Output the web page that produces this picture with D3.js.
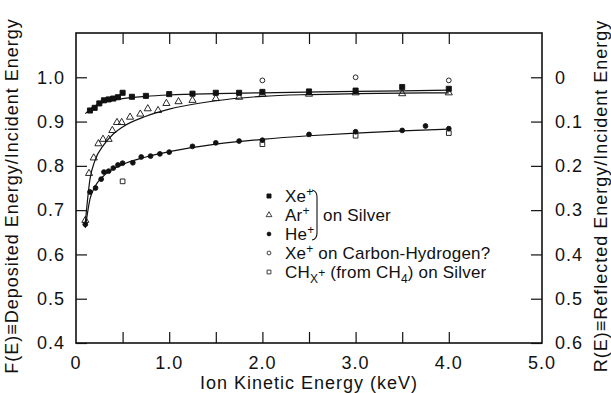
<!DOCTYPE html>
<html>
<head>
<meta charset="utf-8">
<script src="https://cdn.jsdelivr.net/npm/d3@7"></script>
<style>
  body { margin: 0; background: #fff; }
  text { font-family: "Liberation Sans", Arial, sans-serif; fill: #111; }
</style>
</head>
<body>
<script>
var width = 611, height = 393;
var margin = {left: 76, right: 69, top: 33, bottom: 50};

var xeE = [0.15,0.2,0.25,0.3,0.35,0.4,0.45,0.5,0.6,0.75,1.0,1.25,1.5,1.75,2.0,2.5,3.0,3.5,4.0];
var xeF = [0.925,0.931,0.941,0.948,0.95,0.952,0.955,0.965,0.956,0.958,0.962,0.963,0.965,0.965,0.967,0.968,0.97,0.978,0.974];
var arE = [0.1,0.14,0.19,0.24,0.29,0.35,0.39,0.44,0.49,0.58,0.69,0.77,0.88,0.97,1.1,1.25,1.5,1.75,2.0,2.5,3.0,3.5,4.0];
var arF = [0.677,0.783,0.818,0.85,0.86,0.86,0.88,0.898,0.898,0.91,0.917,0.929,0.925,0.941,0.945,0.948,0.952,0.955,0.962,0.962,0.965,0.963,0.965];
var heE = [0.1,0.15,0.21,0.27,0.3,0.35,0.4,0.45,0.5,0.61,0.7,0.8,0.9,1.0,1.25,1.5,1.75,2.0,2.5,3.0,3.5,3.75,4.0];
var heF = [0.668,0.741,0.75,0.77,0.786,0.788,0.795,0.802,0.806,0.807,0.82,0.822,0.827,0.831,0.844,0.852,0.856,0.858,0.871,0.877,0.88,0.89,0.884];
var xeChE = [2.0,3.0,4.0];
var xeChF = [0.993,1.0,0.993];
var chE = [0.5,2.0,3.0,4.0];
var chF = [0.765,0.849,0.868,0.874];

// fitted curves as drawn in the figure
var xeFitE = [0.1,0.2,0.3,0.5,0.75,1.0,1.5,2.0,3.0,4.0];
var xeFitF = [0.918,0.935,0.944,0.952,0.957,0.96,0.963,0.965,0.968,0.971];
var arFitE = [0.1,0.15,0.2,0.3,0.4,0.5,0.75,1.0,1.5,2.0,2.5,3.0,4.0];
var arFitF = [0.672,0.77,0.81,0.848,0.872,0.888,0.912,0.928,0.947,0.957,0.961,0.963,0.965];
var heFitE = [0.1,0.15,0.2,0.3,0.5,0.75,1.0,1.5,2.0,2.5,3.0,3.5,4.0];
var heFitF = [0.66,0.725,0.752,0.778,0.803,0.82,0.832,0.849,0.86,0.868,0.874,0.879,0.883];

// ticks
var xTickLabels = [0,1,2,3,4,5];
var xMinorTicks = [0.5,1,1.5,2,2.5,3,3.5,4];
var leftTicks = [0.4,0.5,0.6,0.7,0.8,0.9,1.0];
var rightTicks = [0,0.1,0.2,0.3,0.4,0.5,0.6];

var zip = function(a, b){ return a.map(function(v, i){ return [v, b[i]]; }); };

var svg = d3.select("body").append("svg")
  .attr("width", width).attr("height", height);

var x = d3.scaleLinear().domain([0, 5]).range([margin.left, width - margin.right]);
var y = d3.scaleLinear().domain([0.4, 1.1]).range([height - margin.bottom, margin.top]);
var yR = d3.scaleLinear().domain([0.6, -0.1]).range([height - margin.bottom, margin.top]);

var tickLen = 11;

// ticks all point inward
var gB = svg.append("g").attr("transform", "translate(0," + y.range()[0] + ")")
  .call(d3.axisBottom(x).tickValues(xMinorTicks).tickSize(-tickLen).tickFormat(""));
var gT = svg.append("g").attr("transform", "translate(0," + y.range()[1] + ")")
  .call(d3.axisTop(x).tickValues(xMinorTicks).tickSize(-tickLen).tickFormat(""));
var gL = svg.append("g").attr("transform", "translate(" + x.range()[0] + ",0)")
  .call(d3.axisLeft(y).tickValues(leftTicks).tickSize(-tickLen).tickFormat(""));
var gR = svg.append("g").attr("transform", "translate(" + x.range()[1] + ",0)")
  .call(d3.axisRight(yR).tickValues(rightTicks).tickSize(-tickLen).tickFormat(""));

[gB, gT, gL, gR].forEach(function(g){
  g.select(".domain").remove();
  g.selectAll(".tick line").attr("stroke", "#111").attr("stroke-width", 1.2);
});

// frame
svg.append("rect")
  .attr("x", x.range()[0]).attr("y", y.range()[1])
  .attr("width", x.range()[1] - x.range()[0])
  .attr("height", y.range()[0] - y.range()[1])
  .attr("fill", "none").attr("stroke", "#111").attr("stroke-width", 1.6);

// tick labels
svg.append("g").selectAll("text").data(xTickLabels).join("text")
  .attr("x", function(d){ return x(d); })
  .attr("y", 369)
  .attr("text-anchor", "middle")
  .style("font-size", "18px").style("letter-spacing", "1px")
  .text(function(d){ return d === 0 ? "0" : d3.format(".1f")(d); });

svg.append("g").selectAll("text").data(leftTicks).join("text")
  .attr("x", 65)
  .attr("y", function(d){ return y(d); })
  .attr("dy", "0.35em")
  .attr("text-anchor", "end")
  .style("font-size", "18px").style("letter-spacing", "1px")
  .text(function(d){ return d3.format(".1f")(d); });

svg.append("g").selectAll("text").data(rightTicks).join("text")
  .attr("x", 555)
  .attr("y", function(d){ return yR(d); })
  .attr("dy", "0.35em")
  .attr("text-anchor", "start")
  .style("font-size", "18px").style("letter-spacing", "1px")
  .text(function(d){ return d === 0 ? "0" : d3.format(".1f")(d); });

// axis titles
svg.append("text")
  .attr("x", d3.mean(x.range())).attr("y", 389)
  .attr("text-anchor", "middle")
  .style("font-size", "18px").style("letter-spacing", "1px")
  .text("Ion Kinetic Energy (keV)");

svg.append("text")
  .attr("transform", "translate(18,196) rotate(-90)")
  .attr("text-anchor", "middle")
  .style("font-size", "18px").style("letter-spacing", "1px")
  .text("F(E)\u2261Deposited Energy/Incident Energy");

svg.append("text")
  .attr("transform", "translate(607,196) rotate(-90)")
  .attr("text-anchor", "middle")
  .style("font-size", "18px").style("letter-spacing", "1px")
  .text("R(E)\u2261Reflected Energy/Incident Energy");

// fit curves
var line = d3.line()
  .x(function(d){ return x(d[0]); })
  .y(function(d){ return y(d[1]); })
  .curve(d3.curveMonotoneX);

[zip(xeFitE, xeFitF), zip(arFitE, arFitF), zip(heFitE, heFitF)].forEach(function(pts){
  svg.append("path").attr("d", line(pts))
    .attr("fill", "none").attr("stroke", "#111").attr("stroke-width", 1.2);
});

// markers
var sym = {
  xe:   {type: d3.symbolSquare,   size: 26, fill: "#111"},
  ar:   {type: d3.symbolTriangle, size: 22, fill: "none"},
  he:   {type: d3.symbolCircle,   size: 18, fill: "#111"},
  xech: {type: d3.symbolCircle,   size: 18, fill: "none"},
  ch:   {type: d3.symbolSquare,   size: 22, fill: "none"}
};

var drawMarks = function(pts, s){
  svg.append("g").selectAll("path").data(pts).join("path")
    .attr("transform", function(d){ return "translate(" + x(d[0]) + "," + y(d[1]) + ")"; })
    .attr("d", d3.symbol().type(s.type).size(s.size))
    .attr("fill", s.fill === "none" ? "#fff" : s.fill)
    .attr("fill-opacity", s.fill === "none" ? 0 : 1)
    .attr("stroke", "#111").attr("stroke-width", 0.9);
};

drawMarks(zip(xeE, xeF), sym.xe);
drawMarks(zip(arE, arF), sym.ar);
drawMarks(zip(heE, heF), sym.he);
drawMarks(zip(xeChE, xeChF), sym.xech);
drawMarks(zip(chE, chF), sym.ch);

// legend
var leg = svg.append("g");
var legRows = [
  {key: "xe", y: 196},
  {key: "ar", y: 215},
  {key: "he", y: 234},
  {key: "xech", y: 253},
  {key: "ch", y: 272}
];
legRows.forEach(function(r){
  var s = sym[r.key];
  leg.append("path")
    .attr("transform", "translate(269," + r.y + ")")
    .attr("d", d3.symbol().type(s.type).size(s.size * 0.65))
    .attr("fill", s.fill === "none" ? "none" : s.fill)
    .attr("stroke", "#111").attr("stroke-width", 0.8);
});

var legText = function(yy, parts){
  var t = leg.append("text").attr("x", 285).attr("y", yy).attr("dy", "0.35em")
    .style("font-size", "17px").style("letter-spacing", "0.2px");
  parts.forEach(function(p){
    var ts = t.append("tspan").text(p.t);
    if(p.sup){ ts.attr("dy", "-6").style("font-size", "12px"); }
    if(p.sub){ ts.attr("dy", "5").style("font-size", "12px"); }
    if(p.back){ ts.attr("dy", p.back); }
  });
};
legText(196, [{t: "Xe"}, {t: "+", sup: true}]);
legText(215, [{t: "Ar"}, {t: "+", sup: true}]);
legText(234, [{t: "He"}, {t: "+", sup: true}]);
legText(253, [{t: "Xe"}, {t: "+", sup: true}, {t: " on Carbon-Hydrogen?", back: "6"}]);
legText(272, [{t: "CH"}, {t: "X", sub: true}, {t: "+", sup: true}, {t: " (from CH", back: "1"}, {t: "4", sub: true}, {t: ") on Silver", back: "-5"}]);

// bracket grouping the silver rows
leg.append("path")
  .attr("d", "M312,190 Q317,191 317,197 L317,233 Q317,239 312,240")
  .attr("fill", "none").attr("stroke", "#111").attr("stroke-width", 1.1);
leg.append("text").attr("x", 323).attr("y", 215).attr("dy", "0.35em")
  .style("font-size", "17px").style("letter-spacing", "0.2px")
  .text("on Silver");
</script>
</body>
</html>
